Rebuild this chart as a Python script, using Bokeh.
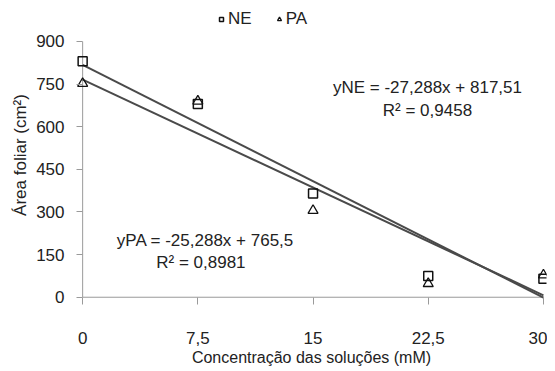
from bokeh.plotting import figure
from bokeh.models import Legend, LegendItem, Label, Range1d, FixedTicker
from bokeh.embed import file_html
from bokeh.resources import INLINE

# data
conc = [0, 7.5, 15, 22.5, 30]
ne_vals = [830, 680, 365, 75, 65]
pa_vals = [752, 690, 305, 48, 78]
ne_coef = [-27.288, 817.51]
pa_coef = [-25.288, 765.5]
x_ticks = [0, 7.5, 15, 22.5, 30]
x_tick_labels = ["0", "7,5", "15", "22,5", "30"]
y_ticks = [0, 150, 300, 450, 600, 750, 900]

FONT = "Liberation Sans"
TXT = "#222222"
AX = "#9a9a9a"

p = figure(width=547, height=368, output_backend="svg", toolbar_location=None,
           x_range=Range1d(-0.4, 30.2), y_range=Range1d(-15, 1016),
           min_border_left=76, min_border_right=1, min_border_top=8, min_border_bottom=67)
p.outline_line_color = None
p.grid.grid_line_color = None
p.background_fill_color = "white"

# axis lines
p.segment(x0=[x_ticks[0]], y0=[y_ticks[0]], x1=[x_ticks[0]], y1=[y_ticks[-1]],
          line_color=AX, line_width=1)
p.segment(x0=[x_ticks[0]], y0=[y_ticks[0]], x1=[x_ticks[-1]], y1=[y_ticks[0]],
          line_color=AX, line_width=1)

fit_x = [conc[0], conc[-1]]
ne_fit = [ne_coef[0] * x + ne_coef[1] for x in fit_x]
pa_fit = [pa_coef[0] * x + pa_coef[1] for x in fit_x]
p.line(fit_x, ne_fit, line_color="#4a4a4a", line_width=2)
p.line(fit_x, pa_fit, line_color="#4a4a4a", line_width=2)

r_ne = p.scatter(conc, ne_vals, marker="square", size=9, fill_color=None,
                 line_color="#111111", line_width=1.5)
r_pa = p.scatter(conc, pa_vals, marker="triangle", size=10, fill_color=None,
                 line_color="#111111", line_width=1.3)

# axes
p.xaxis.ticker = FixedTicker(ticks=x_ticks)
p.xaxis.major_label_overrides = {t: l for t, l in zip(x_ticks, x_tick_labels)}
p.yaxis.ticker = FixedTicker(ticks=y_ticks)
for ax in (p.xaxis, p.yaxis):
    ax.axis_line_color = None
    ax.major_tick_line_color = AX
    ax.minor_tick_line_color = None
    ax.major_label_text_font = FONT
    ax.major_label_text_font_size = "17px"
    ax.major_label_text_color = TXT
    ax.axis_label_text_font = FONT
    ax.axis_label_text_font_style = "normal"
    ax.axis_label_text_color = TXT
p.xaxis.axis_label_text_font_size = "16px"
p.yaxis.axis_label_text_font_size = "17px"
p.yaxis.major_tick_in = 6
p.yaxis.major_tick_out = 0
p.xaxis.major_tick_in = 4
p.xaxis.major_tick_out = 3
p.xaxis.axis_label = "Concentração das soluções (mM)"
p.yaxis.axis_label = "Área foliar (cm²)"
p.xaxis.major_label_standoff = 27
p.xaxis.axis_label_standoff = 2
p.yaxis.major_label_standoff = 12
p.yaxis.axis_label_standoff = 3

# legend
legend = Legend(items=[LegendItem(label="NE", renderers=[r_ne]),
                       LegendItem(label="PA", renderers=[r_pa])],
                orientation="horizontal", location=(140, 272),
                label_text_font=FONT, label_text_font_size="17px", label_text_color=TXT,
                border_line_color=None, background_fill_alpha=0,
                glyph_width=10, glyph_height=12, spacing=22, padding=2, margin=0,
                label_standoff=2)
p.add_layout(legend)

# equations
def lab(x, y, t):
    p.add_layout(Label(x=x, y=y, text=t, text_font=FONT, text_font_size="17px",
                       text_color=TXT, text_align="center", text_baseline="middle"))

lab(22.45, 738, "yNE = -27,288x + 817,51")
lab(22.45, 657, "R² = 0,9458")
lab(8.0, 200, "yPA = -25,288x + 765,5")
lab(7.7, 123, "R² = 0,8981")

open("out.html", "w").write(file_html(p, INLINE))
